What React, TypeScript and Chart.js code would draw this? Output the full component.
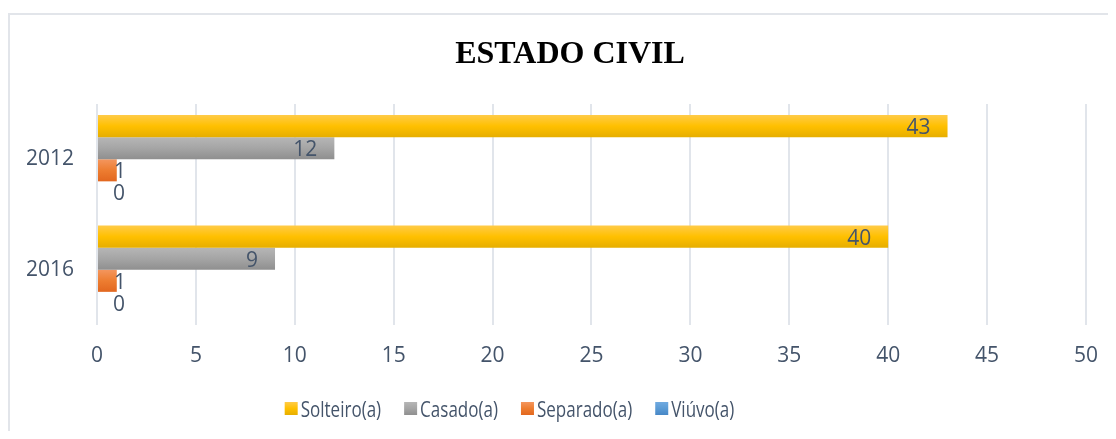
import React, { useEffect, useRef } from 'react';
import { Chart, registerables } from 'chart.js';

Chart.register(...registerables);

const chartTitle = 'ESTADO CIVIL';
const categories = ['2012', '2016'];
const seriesNames = ['Solteiro(a)', 'Casado(a)', 'Separado(a)', 'Viúvo(a)'];
const solteiro = [43, 40];
const casado = [12, 9];
const separado = [1, 1];
const viuvo = [0, 0];
const seriesValues = [solteiro, casado, separado, viuvo];
const xMin = 0;
const xMax = 50;
const xStep = 5;

const palette = [
  { base: '#FFC000', top: '#FFCB48', bottom: '#E6AE00' },
  { base: '#A5A5A5', top: '#B6B6B6', bottom: '#8F8F8F' },
  { base: '#ED7D31', top: '#F4965E', bottom: '#E2671F' },
  { base: '#5B9BD5', top: '#70AAE0', bottom: '#4787C6' },
];

const TEXT = '#44546A';
const TICK_FONT = "'Open Sans', 'Noto Sans', sans-serif";
const LEGEND_FONT = "'Open Sans', 'Noto Sans', sans-serif";
const LEGEND_SX = 0.81;
const CAT_PCT = 0.8;

function barGradient(ctx: any) {
  const p = palette[ctx.datasetIndex];
  if (ctx.type !== 'data') return p.base;
  const chart = ctx.chart;
  const ys = chart.scales && chart.scales.y;
  if (!ys || !chart.chartArea) return p.base;
  const n = chart.data.datasets.length;
  const band = (ys.bottom - ys.top) / chart.data.labels.length;
  const center = ys.getPixelForValue(ctx.dataIndex);
  const thick = (band * CAT_PCT) / n;
  const top = center - (band * CAT_PCT) / 2 + ctx.datasetIndex * thick;
  const g = chart.ctx.createLinearGradient(0, top, 0, top + thick);
  g.addColorStop(0, p.top);
  g.addColorStop(0.5, p.base);
  g.addColorStop(1, p.bottom);
  return g;
}

const overlay = {
  id: 'overlay',
  afterDatasetsDraw(chart: any) {
    const ctx = chart.ctx;
    ctx.save();
    ctx.font = `21px ${TICK_FONT}`;
    ctx.fillStyle = TEXT;
    ctx.textAlign = 'right';
    ctx.textBaseline = 'alphabetic';
    chart.data.datasets.forEach((ds: any, i: number) => {
      const meta = chart.getDatasetMeta(i);
      meta.data.forEach((bar: any, j: number) => {
        const { x, y, base } = bar.getProps(['x', 'y', 'base'], true);
        const xr = Math.max(x - 17, base + 28);
        ctx.fillText(String(ds.data[j]), xr, y + 8);
      });
    });
    ctx.restore();
  },
  afterDraw(chart: any) {
    const ctx = chart.ctx;
    ctx.save();
    // title
    ctx.font = "bold 32px 'Liberation Serif', 'Times New Roman', serif";
    ctx.fillStyle = '#000000';
    ctx.textAlign = 'center';
    ctx.textBaseline = 'alphabetic';
    ctx.fillText(chartTitle, 560, 48);
    // legend
    ctx.font = `21px ${LEGEND_FONT}`;
    ctx.textAlign = 'left';
    const box = 13;
    const gapBox = 3;
    const gapItem = 23;
    const widths = chart.data.datasets.map(
      (ds: any) => box + gapBox + ctx.measureText(ds.label).width * LEGEND_SX
    );
    const total = widths.reduce((a: number, b: number) => a + b, 0) + gapItem * (widths.length - 1);
    let x = 499.5 - total / 2;
    const boxTop = 387;
    chart.data.datasets.forEach((ds: any, i: number) => {
      const p = palette[i];
      const g = ctx.createLinearGradient(0, boxTop, 0, boxTop + box);
      g.addColorStop(0, p.top);
      g.addColorStop(0.5, p.base);
      g.addColorStop(1, p.bottom);
      ctx.fillStyle = g;
      ctx.fillRect(x, boxTop, box, box);
      ctx.fillStyle = TEXT;
      ctx.save();
      ctx.translate(x + box + gapBox, 402);
      ctx.scale(LEGEND_SX, 1);
      ctx.fillText(ds.label, 0, 0);
      ctx.restore();
      x += widths[i] + gapItem;
    });
    ctx.restore();
  },
};

export default function App() {
  const ref = useRef<HTMLCanvasElement>(null);
  useEffect(() => {
    document.documentElement.style.overflow = 'hidden';
    const canvas = ref.current;
    if (!canvas) return;
    const chart = new Chart(canvas, {
      type: 'bar',
      data: {
        labels: categories,
        datasets: seriesNames.map((name, i) => ({
          label: name,
          data: seriesValues[i],
          backgroundColor: barGradient,
          borderWidth: 0,
          categoryPercentage: CAT_PCT,
          barPercentage: 1,
        })),
      },
      options: {
        indexAxis: 'y',
        responsive: false,
        animation: false,
        layout: { padding: { top: 89, right: 28, bottom: 63, left: 0 } },
        plugins: {
          legend: { display: false },
          title: { display: false },
          tooltip: { enabled: false },
        },
        scales: {
          x: {
            min: xMin,
            max: xMax,
            ticks: {
              stepSize: xStep,
              color: TEXT,
              padding: 18,
              font: { family: TICK_FONT, size: 21 },
            },
            grid: { display: true, color: '#E1E5EB', lineWidth: 2, drawTicks: false },
            border: { display: false },
            afterFit: (s: any) => {
              s.height = 43;
            },
          },
          y: {
            ticks: {
              color: TEXT,
              padding: 23,
              font: { family: TICK_FONT, size: 21 },
            },
            grid: { display: false, drawTicks: false },
            border: { display: false },
            afterFit: (s: any) => {
              s.width = 87;
            },
          },
        },
      },
      plugins: [overlay],
    });
    return () => chart.destroy();
  }, []);
  return (
    <div style={{ paddingTop: 5 }}>
      <div
        style={{
          borderTop: '2px solid #E2E5EA',
          borderLeft: '2px solid #E2E5EA',
          width: 1106,
          height: 416,
        }}
      >
        <canvas ref={ref} width={1106} height={416} style={{ display: 'block' }} />
      </div>
    </div>
  );
}
